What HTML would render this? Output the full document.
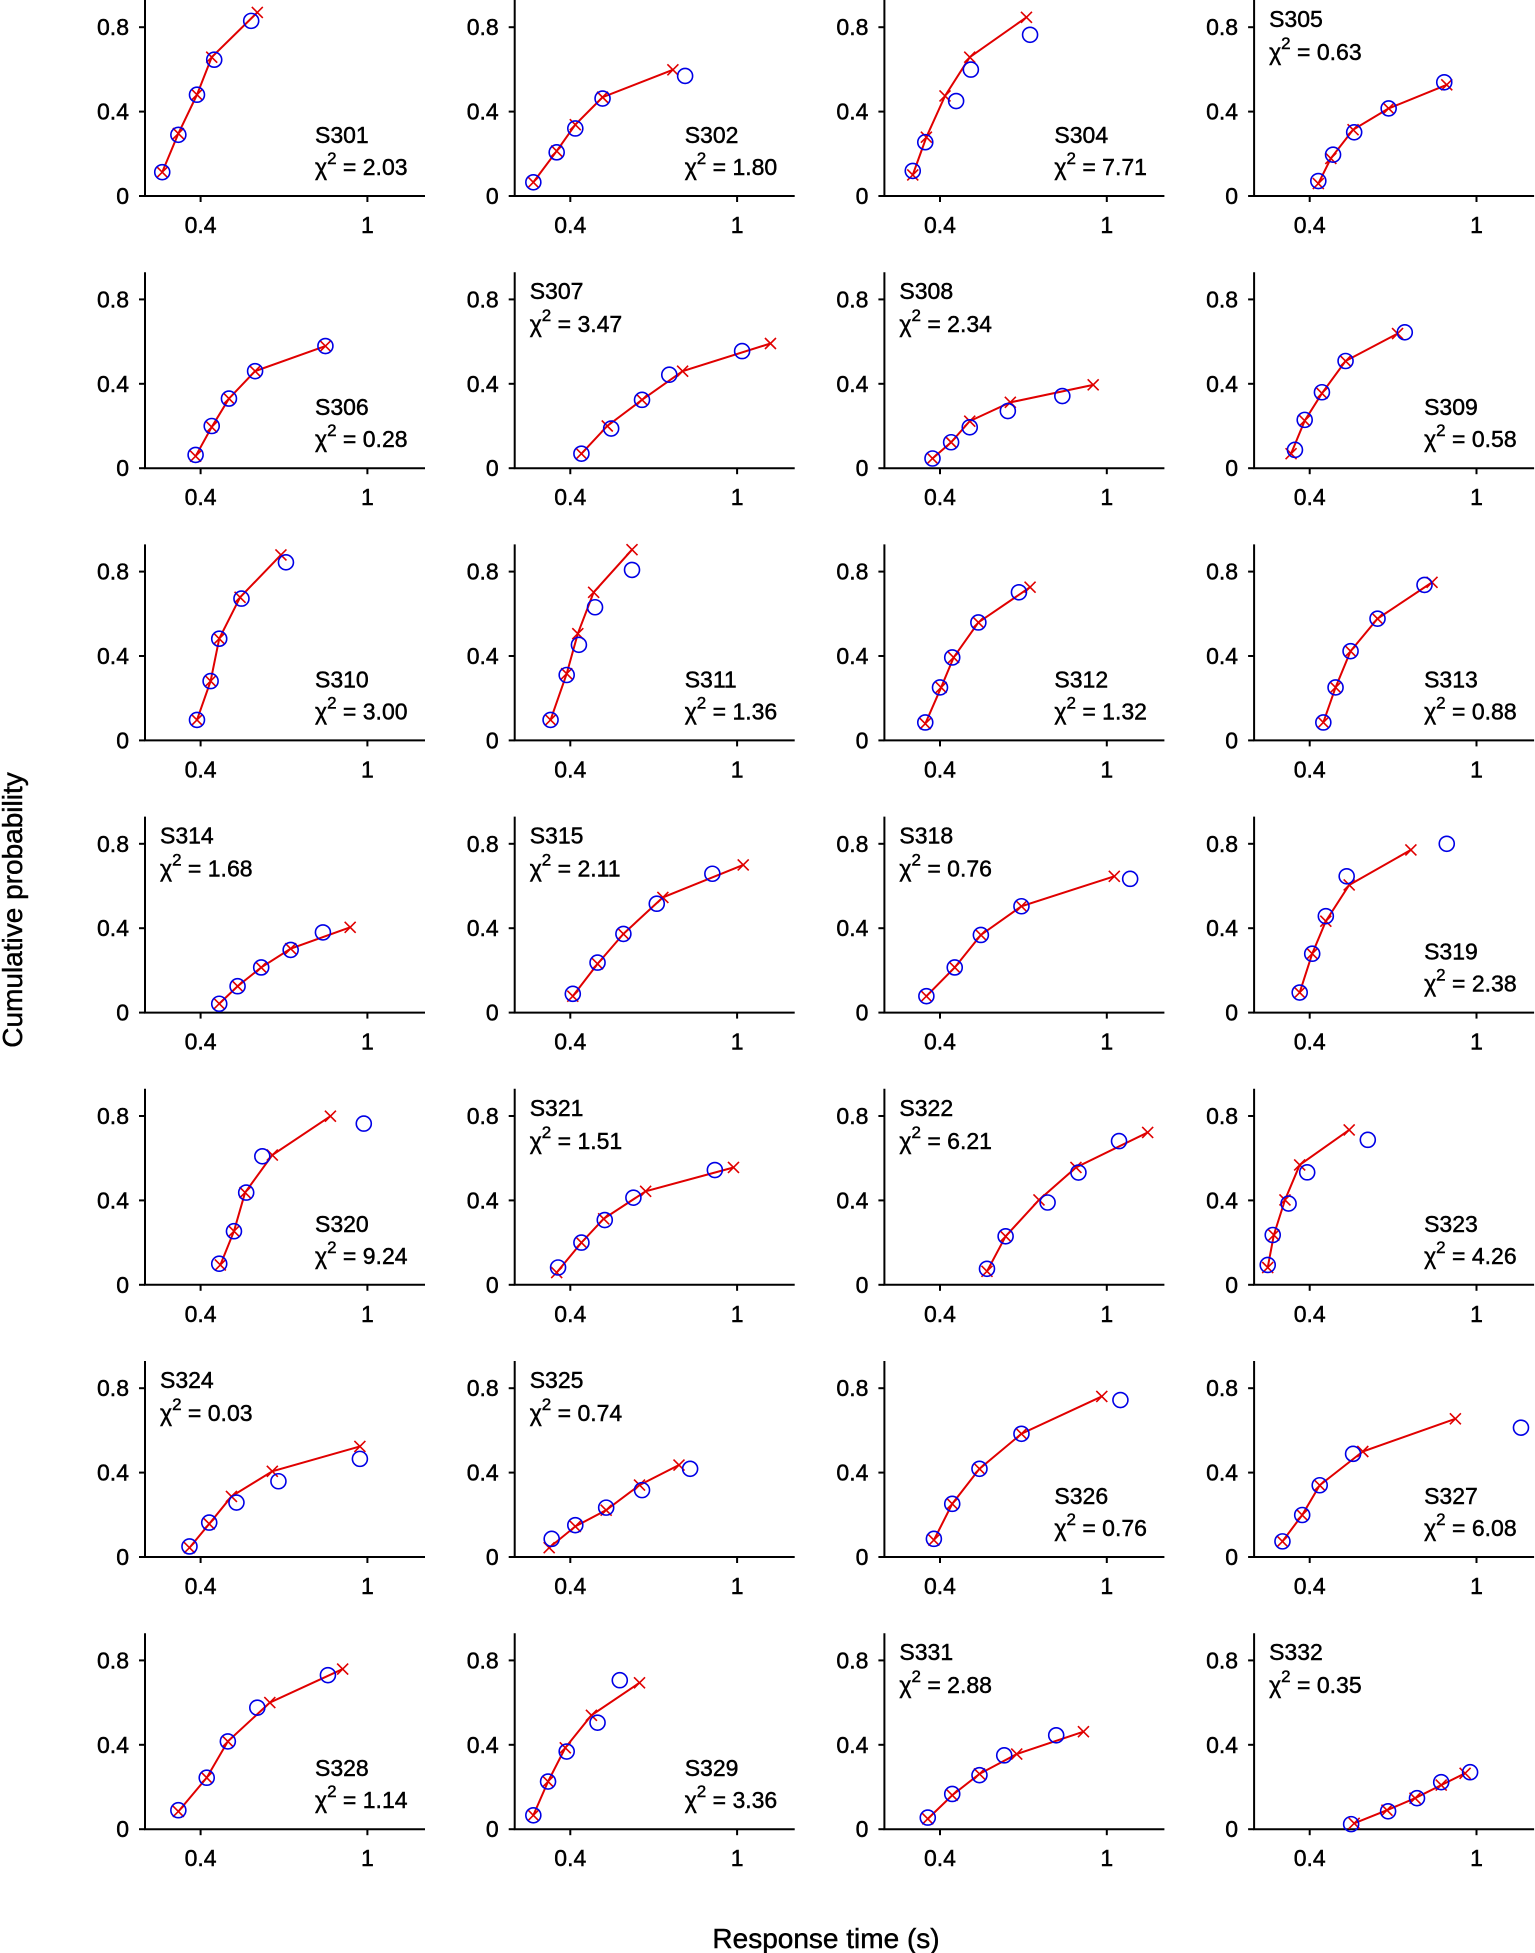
<!DOCTYPE html>
<html><head><meta charset="utf-8">
<style>
html,body{margin:0;padding:0;background:#fff;}
svg{display:block;}
text{font-family:"Liberation Sans",Arial,sans-serif;fill:#000;stroke:#000;stroke-width:0.45px;}
</style></head>
<body>
<svg id="chart" width="1535" height="1953" viewBox="0 0 1535 1953" xmlns="http://www.w3.org/2000/svg">
<text x="0" y="0" font-size="28" text-anchor="middle" transform="translate(22,910) rotate(-90)">Cumulative probability</text>
<text x="826" y="1948" font-size="28" text-anchor="middle">Response time (s)</text>
</svg>
<script>
const panelIds = ["S301","S302","S304","S305","S306","S307","S308","S309","S310","S311","S312","S313","S314","S315","S318","S319","S320","S321","S322","S323","S324","S325","S326","S327","S328","S329","S331","S332"];
const chiValues = ["2.03","1.80","7.71","0.63","0.28","3.47","2.34","0.58","3.00","1.36","1.32","0.88","1.68","2.11","0.76","2.38","9.24","1.51","6.21","4.26","0.03","0.74","0.76","6.08","1.14","3.36","2.88","0.35"];
const labelTop = [0,0,0,1, 0,1,1,0, 0,0,0,0, 1,1,1,0, 0,1,1,0, 1,1,0,0, 0,0,1,1];
const obsX = [
[0.262,0.320,0.387,0.449,0.582],[0.267,0.351,0.418,0.516,0.813],[0.302,0.347,0.458,0.511,0.724],[0.431,0.484,0.560,0.684,0.884],
[0.382,0.440,0.502,0.596,0.849],[0.440,0.547,0.658,0.756,1.018],[0.373,0.440,0.507,0.644,0.840],[0.347,0.382,0.444,0.529,0.742],
[0.387,0.436,0.467,0.547,0.707],[0.329,0.387,0.431,0.489,0.622],[0.347,0.400,0.444,0.538,0.684],[0.449,0.493,0.547,0.644,0.813],
[0.467,0.533,0.618,0.724,0.840],[0.409,0.498,0.591,0.711,0.911],[0.351,0.453,0.547,0.693,1.084],[0.364,0.409,0.458,0.533,0.893],
[0.467,0.520,0.564,0.622,0.987],[0.356,0.440,0.524,0.627,0.920],[0.569,0.636,0.787,0.898,1.044],[0.249,0.267,0.324,0.391,0.609],
[0.360,0.431,0.529,0.680,0.973],[0.333,0.418,0.529,0.658,0.831],[0.378,0.444,0.542,0.693,1.049],[0.302,0.373,0.436,0.556,1.160],
[0.320,0.422,0.498,0.604,0.858],[0.267,0.320,0.387,0.498,0.578],[0.356,0.444,0.542,0.631,0.818],[0.549,0.682,0.786,0.873,0.977]];
const obsY = [
[0.113,0.290,0.480,0.646,0.830],[0.065,0.207,0.320,0.462,0.569],[0.119,0.255,0.450,0.599,0.764],[0.071,0.196,0.302,0.415,0.539],
[0.063,0.200,0.330,0.460,0.579],[0.069,0.188,0.324,0.443,0.555],[0.046,0.123,0.194,0.271,0.342],[0.087,0.229,0.360,0.508,0.644],
[0.097,0.281,0.482,0.672,0.844],[0.097,0.310,0.453,0.631,0.808],[0.085,0.251,0.393,0.559,0.702],[0.085,0.251,0.423,0.577,0.737],
[0.042,0.125,0.214,0.297,0.380],[0.089,0.237,0.373,0.516,0.658],[0.078,0.214,0.368,0.504,0.634],[0.095,0.279,0.457,0.646,0.800],
[0.100,0.254,0.437,0.609,0.764],[0.082,0.200,0.307,0.413,0.544],[0.076,0.230,0.390,0.532,0.681],[0.094,0.236,0.385,0.533,0.687],
[0.050,0.163,0.258,0.359,0.465],[0.086,0.151,0.234,0.317,0.418],[0.086,0.252,0.418,0.584,0.744],[0.074,0.199,0.340,0.489,0.613],
[0.090,0.244,0.416,0.576,0.730],[0.066,0.226,0.368,0.505,0.706],[0.055,0.167,0.256,0.350,0.445],[0.024,0.085,0.147,0.223,0.270]];
const fitX = [
[0.262,0.320,0.387,0.440,0.604],[0.267,0.351,0.418,0.516,0.769],[0.302,0.351,0.418,0.507,0.711],[0.431,0.476,0.556,0.684,0.893],
[0.382,0.440,0.502,0.596,0.849],[0.440,0.533,0.658,0.804,1.120],[0.373,0.440,0.507,0.653,0.951],[0.333,0.382,0.444,0.529,0.716],
[0.387,0.436,0.467,0.542,0.689],[0.329,0.387,0.427,0.484,0.622],[0.347,0.404,0.449,0.538,0.724],[0.449,0.493,0.547,0.644,0.840],
[0.467,0.533,0.618,0.724,0.938],[0.409,0.498,0.591,0.733,1.022],[0.351,0.453,0.547,0.693,1.027],[0.364,0.409,0.458,0.542,0.764],
[0.471,0.520,0.560,0.658,0.867],[0.351,0.440,0.520,0.671,0.987],[0.569,0.636,0.756,0.889,1.147],[0.249,0.271,0.311,0.364,0.542],
[0.360,0.431,0.511,0.658,0.973],[0.324,0.418,0.529,0.649,0.791],[0.378,0.444,0.542,0.693,0.982],[0.302,0.373,0.436,0.591,0.924],
[0.320,0.422,0.498,0.649,0.911],[0.267,0.320,0.382,0.476,0.649],[0.356,0.444,0.542,0.676,0.916],[0.560,0.678,0.779,0.873,0.959]];
const fitY = [
[0.113,0.296,0.480,0.658,0.870],[0.065,0.213,0.338,0.468,0.598],[0.100,0.279,0.474,0.658,0.847],[0.059,0.178,0.314,0.415,0.527],
[0.057,0.195,0.330,0.460,0.579],[0.069,0.200,0.324,0.460,0.591],[0.046,0.123,0.223,0.312,0.395],[0.069,0.225,0.355,0.508,0.638],
[0.097,0.281,0.482,0.678,0.879],[0.097,0.316,0.506,0.702,0.904],[0.079,0.251,0.393,0.559,0.726],[0.085,0.251,0.423,0.577,0.749],
[0.042,0.125,0.214,0.303,0.404],[0.078,0.231,0.373,0.546,0.700],[0.078,0.214,0.368,0.504,0.646],[0.095,0.279,0.433,0.605,0.771],
[0.094,0.254,0.437,0.615,0.799],[0.058,0.200,0.313,0.443,0.556],[0.064,0.230,0.402,0.556,0.722],[0.082,0.236,0.402,0.568,0.734],
[0.044,0.157,0.287,0.406,0.524],[0.044,0.145,0.222,0.341,0.436],[0.080,0.252,0.418,0.584,0.761],[0.074,0.199,0.340,0.500,0.655],
[0.084,0.244,0.416,0.600,0.759],[0.066,0.226,0.386,0.540,0.694],[0.049,0.161,0.262,0.356,0.462],[0.028,0.090,0.147,0.209,0.265]];
const xTickValues = [0.4, 1];
const xTickLabels = ["0.4", "1"];
const yTickValues = [0, 0.4, 0.8];
const yTickLabels = ["0", "0.4", "0.8"];

const NS = "http://www.w3.org/2000/svg";
const svg = document.getElementById("chart");
function mk(tag, attrs, parent) {
  const e = document.createElementNS(NS, tag);
  for (const k in attrs) e.setAttribute(k, attrs[k]);
  parent.appendChild(e);
  return e;
}
const X0 = 145, COLW = 369.7, Y0 = 196, ROWH = 272.2;
const PXS = 278, PYS = 211, AXW = 280, AXH = 196;

panelIds.forEach((id, i) => {
  const col = i % 4, row = Math.floor(i / 4);
  const ox = X0 + col * COLW, oy = Y0 + row * ROWH;
  const sx = v => ox + (v - 0.2) * PXS;
  const sy = v => oy - v * PYS;
  const g = mk("g", {}, svg);
  
  
  const ax = mk("path", {d: `M${ox},${oy-AXH} L${ox},${oy} L${ox+AXW},${oy}`, fill: "none", stroke: "#000", "stroke-width": 2}, g);
  
  
  yTickValues.forEach((v, k) => {
    const t = mk("line", {x1: ox - 6, x2: ox, y1: sy(v), y2: sy(v), stroke: "#000", "stroke-width": 2}, g);
    
    
    const tl = mk("text", {x: ox - 16, y: sy(v) + 8, "font-size": 23, "text-anchor": "end"}, g);
    
    
    tl.textContent = yTickLabels[k];
  });
  xTickValues.forEach((v, k) => {
    const t = mk("line", {x1: sx(v), x2: sx(v), y1: oy, y2: oy + 6, stroke: "#000", "stroke-width": 2}, g);
    
    
    const tl = mk("text", {x: sx(v), y: oy + 37, "font-size": 23, "text-anchor": "middle"}, g);
    
    
    tl.textContent = xTickLabels[k];
  });
  const pts = fitX[i].map((x, k) => sx(x) + "," + sy(fitY[i][k])).join(" ");
  const pl = mk("polyline", {points: pts, fill: "none", stroke: "#e00000", "stroke-width": 2}, g);
  
  
  fitX[i].forEach((x, k) => {
    const cx = sx(x), cy = sy(fitY[i][k]), s = 5.5;
    const c = mk("path", {d: `M${cx-s},${cy-s}L${cx+s},${cy+s}M${cx-s},${cy+s}L${cx+s},${cy-s}`, stroke: "#e00000", "stroke-width": 1.6, fill: "none"}, g);
    
    
  });
  obsX[i].forEach((x, k) => {
    const c = mk("circle", {cx: sx(x), cy: sy(obsY[i][k]), r: 7.5, fill: "none", stroke: "#0000e6", "stroke-width": 1.6}, g);
    
    
  });
  let tx, ty1, ty2;
  if (labelTop[i]) { tx = ox + 15; ty1 = oy - AXH + 27; ty2 = oy - AXH + 60; }
  else { tx = ox + 170; ty1 = oy - 53; ty2 = oy - 21; }
  const lab = mk("text", {x: tx, y: ty1, "font-size": 23}, g);
  
  
  lab.textContent = id;
  const chi = mk("text", {x: tx, y: ty2, "font-size": 23}, g);
  
  
  const t1 = mk("tspan", {}, chi); t1.textContent = "\u03C7";
  const t2 = mk("tspan", {dy: -11, "font-size": 17}, chi); t2.textContent = "2";
  const t3 = mk("tspan", {dy: 11}, chi); t3.textContent = " = " + chiValues[i];
});
</script>
</body></html>
